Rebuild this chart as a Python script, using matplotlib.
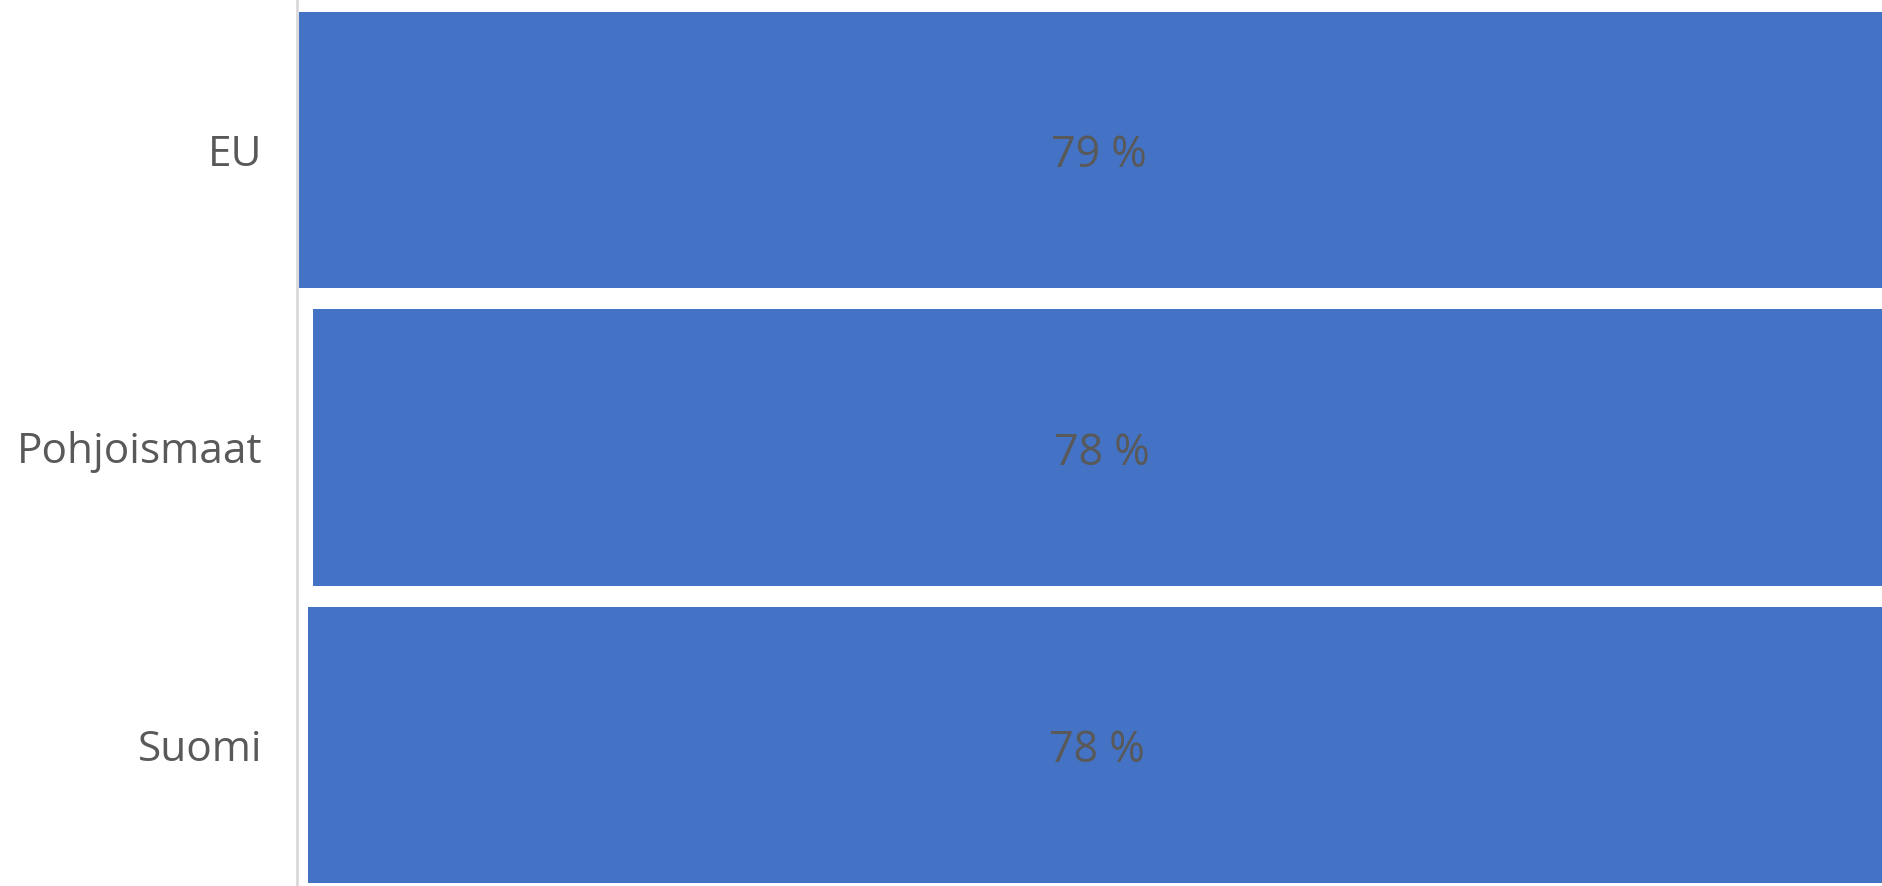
import matplotlib
matplotlib.use("Agg")
import matplotlib.pyplot as plt

categories = ["Suomi", "Pohjoismaat", "EU"]
offsets = [0.52, 0.77, 0.1]
values = [78, 78, 79]
labels = ["78 %", "78 %", "79 %"]

plt.rcParams['font.family'] = ['Open Sans', 'DejaVu Sans']

fig = plt.figure(figsize=(18.83, 8.86), dpi=100)
ax = fig.add_axes([297/1883, 0.0, 1 - 297/1883, 1.0])

ypos = list(range(len(categories)))
bars = ax.barh(ypos, values, left=offsets, height=0.93, color="#4472C4",
               edgecolor="none", clip_on=True)
for b, lab in zip(bars, labels):
    cx = b.get_x() + b.get_width() / 2
    cy = b.get_y() + b.get_height() / 2
    ax.annotate(lab, (cx, cy), xytext=(0, -4.5), textcoords="offset points",
                ha="center", va="center", color="#595959", fontsize=31)

ax.set_xlim(0, (1883 - 297) / 20.25)
ax.set_ylim(-0.474, 2.504)
ax.set_yticks(ypos)
ax.set_yticklabels(categories, fontsize=30.5, color="#595959")
ax.tick_params(axis="y", length=0, pad=25)
ax.set_xticks([])
for s in ["top", "right", "bottom"]:
    ax.spines[s].set_visible(False)
ax.spines["left"].set_color("#D9D9D9")
ax.spines["left"].set_linewidth(2)
fig.savefig("out.png", dpi=100)
